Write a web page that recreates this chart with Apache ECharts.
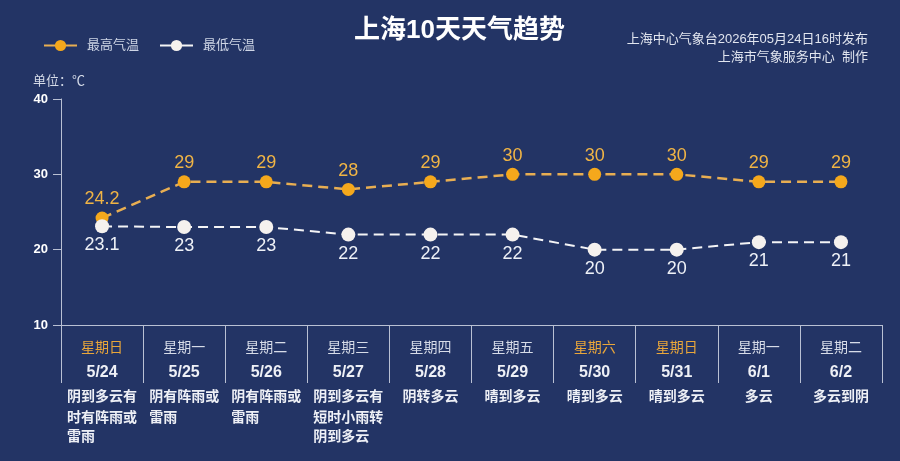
<!DOCTYPE html>
<html>
<head>
<meta charset="utf-8">
<script src="https://cdn.jsdelivr.net/npm/echarts@6/dist/echarts.min.js"></script>
<style>
  html, body { margin: 0; padding: 0; background: #233465; }
  #trend { width: 900px; height: 461px; }
</style>
</head>
<body>
<div id="trend"></div>
<script>
/** 上海10天天气趋势 */
var dates = ['5/24', '5/25', '5/26', '5/27', '5/28', '5/29', '5/30', '5/31', '6/1', '6/2'];
var weekdays = ['星期日', '星期一', '星期二', '星期三', '星期四', '星期五', '星期六', '星期日', '星期一', '星期二'];
var weathers = ['阴到多云有时有阵雨或雷雨', '阴有阵雨或雷雨', '阴有阵雨或雷雨', '阴到多云有短时小雨转阴到多云',
  '阴转多云', '晴到多云', '晴到多云', '晴到多云', '多云', '多云到阴'];
var highTemp = [24.2, 29, 29, 28, 29, 30, 30, 30, 29, 29];
var lowTemp = [23.1, 23, 23, 22, 22, 22, 20, 20, 21, 21];

var font = '"Liberation Sans", "Noto Sans CJK SC", sans-serif';
var axisColor = '#b9c0d3';

// 天气描述每行5个字, 多行左对齐, 单行居中
function wrapWeather(text) {
  if (text.length <= 5) {
    return '{wc|' + text + '}';
  }
  var lines = [];
  for (var i = 0; i < text.length; i += 5) {
    lines.push(text.slice(i, i + 5));
  }
  return lines.map(function (s, k) {
    return '{' + (k === 0 ? 'w1' : 'w') + '|' + s + '}';
  }).join('\n');
}

var trend = echarts.init(document.getElementById('trend'));
var option = {
  backgroundColor: '#233465',
  title: {
    text: '上海10天天气趋势',
    left: 349,
    top: 13,
    textStyle: { color: '#ffffff', fontSize: 26, fontWeight: 'bold', fontFamily: font }
  },
  legend: {
    left: 38,
    top: 34,
    itemWidth: 33,
    itemHeight: 14,
    itemGap: 20,
    lineStyle: { type: 'solid' },
    textStyle: { color: '#cfd6e6', fontSize: 13, fontFamily: font, padding: [0, 0, 0, 5] },
    data: ['最高气温', '最低气温']
  },
  graphic: [{
    type: 'text',
    left: 33,
    top: 75,
    style: { text: '单位：℃', fill: '#d5dbe8', fontSize: 13, fontFamily: font }
  }, {
    type: 'text',
    right: 32,
    top: 33,
    style: { text: '上海中心气象台2026年05月24日16时发布', fill: '#e1e5ef', fontSize: 13, fontFamily: font }
  }, {
    type: 'text',
    right: 32,
    top: 51,
    style: { text: '上海市气象服务中心  制作', fill: '#e1e5ef', fontSize: 13, fontFamily: font }
  }],
  grid: { left: 61, right: 18, top: 99, bottom: 136 },
  xAxis: {
    type: 'category',
    data: dates,
    boundaryGap: true,
    axisLine: { lineStyle: { color: axisColor, width: 1 } },
    axisTick: { show: true, interval: 0, length: 58, lineStyle: { color: axisColor } },
    axisLabel: {
      interval: 0,
      margin: 12,
      formatter: function (value, idx) {
        var wd = weekdays[idx];
        var wdStyle = (wd === '星期六' || wd === '星期日') ? 'we' : 'wd';
        return '{' + wdStyle + '|' + wd + '}\n{d|' + value + '}\n' + wrapWeather(weathers[idx]);
      },
      rich: {
        wd: { color: '#d7dce8', fontSize: 14, lineHeight: 22, align: 'center', fontFamily: font },
        we: { color: '#e9a63a', fontSize: 14, lineHeight: 22, align: 'center', fontFamily: font },
        d: { color: '#eef0f6', fontSize: 16, fontWeight: 'bold', lineHeight: 27, align: 'center', fontFamily: font },
        wc: { color: '#eef0f6', fontSize: 14, fontWeight: 'bold', lineHeight: 23, align: 'center', fontFamily: font },
        w1: { color: '#eef0f6', fontSize: 14, fontWeight: 'bold', lineHeight: 23, align: 'left', fontFamily: font },
        w: { color: '#eef0f6', fontSize: 14, fontWeight: 'bold', lineHeight: 19, align: 'left', fontFamily: font }
      }
    }
  },
  yAxis: {
    type: 'value',
    min: 10,
    max: 40,
    interval: 10,
    axisLine: { show: true, lineStyle: { color: axisColor, width: 1 } },
    axisTick: { show: true, length: 8, lineStyle: { color: axisColor } },
    splitLine: { show: false },
    axisLabel: { color: '#ffffff', fontSize: 13, fontWeight: 'bold', margin: 13, fontFamily: font }
  },
  series: [{
    name: '最高气温',
    type: 'line',
    data: highTemp,
    symbol: 'circle',
    symbolSize: 13,
    itemStyle: { color: '#f5a81c' },
    lineStyle: { color: '#e8ae52', width: 2.5, type: [10, 6] },
    label: {
      show: true,
      position: 'top',
      distance: 3,
      color: '#f0b445',
      fontSize: 18,
      fontFamily: font
    }
  }, {
    name: '最低气温',
    type: 'line',
    data: lowTemp,
    symbol: 'circle',
    symbolSize: 14,
    itemStyle: { color: '#f5f1ee' },
    lineStyle: { color: '#f4f4f6', width: 2, type: [10, 6] },
    label: {
      show: true,
      position: 'bottom',
      distance: 3,
      color: '#eef1f7',
      fontSize: 18,
      fontFamily: font
    }
  }]
};

trend.setOption(option);
</script>
</body>
</html>
